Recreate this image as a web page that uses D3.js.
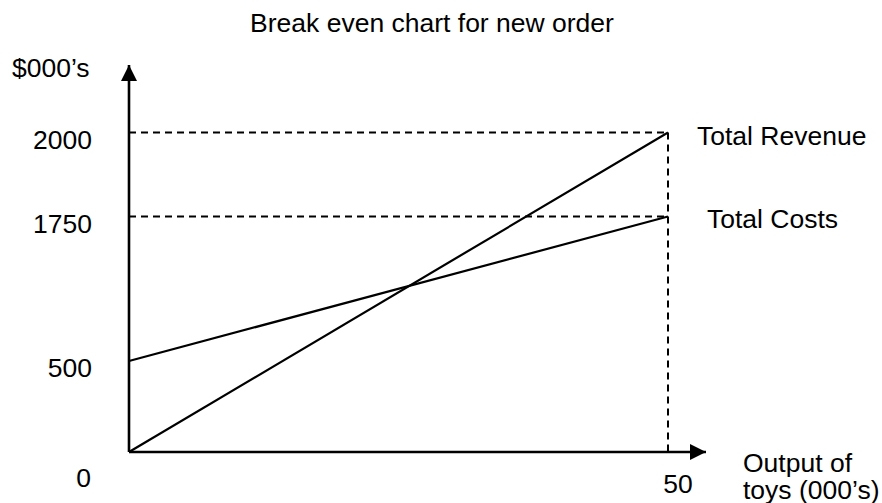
<!DOCTYPE html>
<html>
<head>
<meta charset="utf-8">
<script src="https://cdn.jsdelivr.net/npm/d3@7"></script>
<style>
body { margin: 0; background: #fff; }
text { font-family: "Liberation Sans", Arial, sans-serif; fill: #000; }
</style>
</head>
<body>
<svg class="chart" width="882" height="503"></svg>
<script>
// data
var output = [0, 50];              // 000's of toys
var revenue = [0, 2000];           // $000's
var costs = [500, 1750];           // $000's
var yTicks = [500, 1750, 2000];
var xTicks = [50];
var title = "Break even chart for new order";

var svg = d3.select(".chart"),
    fs = 26.5;

// the original is sketched, not to scale, so the y scale is piecewise
var x = d3.scaleLinear().domain([0, 50]).range([129, 668]);
var y = d3.scaleLinear().domain([0, 500, 1750, 2000]).range([452, 361, 216.5, 132.5]);

var defs = svg.append("defs");
defs.append("marker")
    .attr("id", "arrow")
    .attr("viewBox", "0 0 10 10")
    .attr("refX", 10).attr("refY", 5)
    .attr("markerWidth", 16).attr("markerHeight", 17)
    .attr("markerUnits", "userSpaceOnUse")
    .attr("orient", "auto")
  .append("path")
    .attr("d", "M0,0L10,5L0,10Z")
    .attr("fill", "#000");

// title
svg.append("text")
    .attr("x", 432).attr("y", 32)
    .attr("text-anchor", "middle")
    .style("font-size", fs + "px")
    .text(title);

// dashed guides
var lastX = output[output.length - 1];
svg.selectAll(".guide")
    .data([revenue[1], costs[1]])
  .enter().append("line")
    .attr("class", "guide")
    .attr("x1", x(0)).attr("x2", x(lastX))
    .attr("y1", function(d) { return y(d); })
    .attr("y2", function(d) { return y(d); })
    .attr("stroke", "#000")
    .attr("stroke-width", 2)
    .attr("stroke-dasharray", "7,5");

svg.append("line")
    .attr("x1", x(lastX)).attr("x2", x(lastX))
    .attr("y1", y(d3.max(revenue))).attr("y2", y(0))
    .attr("stroke", "#000")
    .attr("stroke-width", 2)
    .attr("stroke-dasharray", "7,5");

// axes with arrow heads
svg.append("line")
    .attr("x1", x(0)).attr("y1", y(0))
    .attr("x2", x(0)).attr("y2", 65)
    .attr("stroke", "#000").attr("stroke-width", 2.6)
    .attr("marker-end", "url(#arrow)");

svg.append("line")
    .attr("x1", x(0)).attr("y1", y(0))
    .attr("x2", 706).attr("y2", y(0))
    .attr("stroke", "#000").attr("stroke-width", 2.6)
    .attr("marker-end", "url(#arrow)");

// the two lines
var line = d3.line()
    .x(function(d) { return x(d[0]); })
    .y(function(d) { return y(d[1]); });

svg.append("path")
    .datum(d3.zip(output, revenue))
    .attr("fill", "none").attr("stroke", "#000").attr("stroke-width", 2.2)
    .attr("d", line);

svg.append("path")
    .datum(d3.zip(output, costs))
    .attr("fill", "none").attr("stroke", "#000").attr("stroke-width", 2.2)
    .attr("d", line);

// tick labels
svg.selectAll(".ytick")
    .data(yTicks)
  .enter().append("text")
    .attr("class", "ytick")
    .attr("x", 92)
    .attr("y", function(d) { return y(d) + 7; })
    .attr("dy", "0.35em")
    .attr("text-anchor", "end")
    .style("font-size", fs + "px")
    .text(function(d) { return d; });

svg.append("text")
    .attr("x", 91).attr("y", 487)
    .attr("text-anchor", "end")
    .style("font-size", fs + "px")
    .text("0");

svg.selectAll(".xtick")
    .data(xTicks)
  .enter().append("text")
    .attr("class", "xtick")
    .attr("x", function(d) { return x(d) + 10; })
    .attr("y", 493)
    .attr("text-anchor", "middle")
    .style("font-size", fs + "px")
    .text(function(d) { return d; });

// axis titles
svg.append("text")
    .attr("x", 12).attr("y", 77)
    .style("font-size", fs + "px")
    .text("$000\u2019s");

var xt = svg.append("text")
    .attr("x", 743).attr("y", 472)
    .style("font-size", fs + "px");
xt.append("tspan").text("Output of");
xt.append("tspan").attr("x", 743).attr("dy", 27).text("toys (000\u2019s)");

// line labels
svg.append("text")
    .attr("x", 697).attr("y", 145)
    .style("font-size", fs + "px")
    .text("Total Revenue");

svg.append("text")
    .attr("x", 707).attr("y", 228)
    .style("font-size", fs + "px")
    .text("Total Costs");
</script>
</body>
</html>
